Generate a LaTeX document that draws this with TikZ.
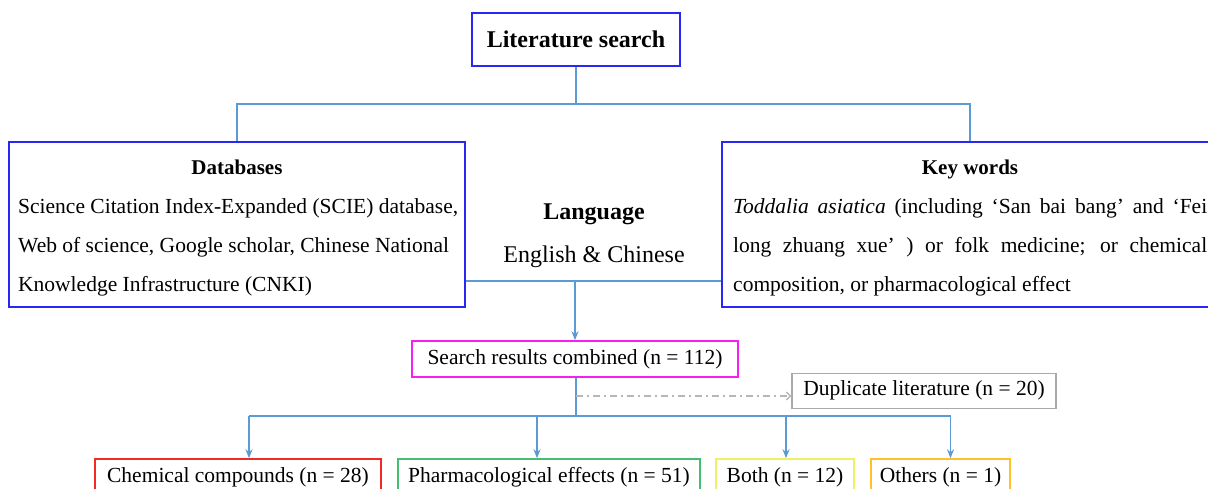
\documentclass[tikz,border=0pt]{standalone}
\usepackage{fontspec}
\setmainfont{Liberation Serif}
\usetikzlibrary{arrows.meta,calc,positioning}
\definecolor{boxblue}{RGB}{40,40,245}
\definecolor{linkblue}{RGB}{91,155,213}
\definecolor{mergepink}{RGB}{245,30,245}
\definecolor{dupgray}{RGB}{170,170,170}
\definecolor{chemred}{RGB}{245,40,40}
\definecolor{pharmgreen}{RGB}{70,190,110}
\definecolor{bothyellow}{RGB}{240,240,100}
\definecolor{otherorange}{RGB}{255,192,40}
\tikzset{
  box/.style={draw, line width=1.5pt, inner sep=0pt, align=center},
  link/.style={draw=linkblue, line width=1.6pt},
  arr/.style={link, -{Stealth[length=9pt,width=7pt]}},
  dupflow/.style={draw=dupgray!85, line width=1.4pt, dash pattern=on 7pt off 4pt on 2pt off 4pt,
    -{Straight Barb[length=4pt,width=8pt]}},
  body/.style={font=\fontsize{21.5}{26}\selectfont, inner sep=0pt},
  head/.style={font=\fontsize{21}{25}\selectfont\bfseries, inner sep=0pt},
  big/.style={font=\fontsize{24}{28}\selectfont, inner sep=0pt},
}

\begin{document}
\begin{tikzpicture}[x=1pt,y=-1pt]
  \clip (0,0) rectangle (1208,489);

  % Top of the tree.
  \node[box, draw=boxblue, big, minimum width=208pt, minimum height=53pt]
    (lit) at (576,39.5) {\bfseries Literature search};

  % Databases and key words.
  \node[box, draw=boxblue, minimum width=456pt, minimum height=165pt] (db) at (237,224.5) {};
  \node[head, anchor=base] (dbtitle) at (237,175) {Databases};
  \node[body, anchor=base west] (db1) at (18,213.5) {Science Citation Index-Expanded (SCIE) database,};
  \node[body, anchor=base west] (db2) at (18,252.5) {Web of science, Google scholar, Chinese National};
  \node[body, anchor=base west] (db3) at (18,291.5) {Knowledge Infrastructure (CNKI)};

  \node[box, draw=boxblue, minimum width=496pt, minimum height=165pt] (kw) at (970,224.5) {};
  \node[head, anchor=base] (kwtitle) at (970,175) {Key words};
  \node[body, anchor=base west] (kw1) at (733,213.5)
    {\makebox[474pt][s]{\textit{Toddalia asiatica} (including ‘San bai bang’ and ‘Fei}};
  \node[body, anchor=base west] (kw2) at (733,252.5)
    {\makebox[474pt][s]{long zhuang xue’ ) or folk medicine; or chemical}};
  \node[body, anchor=base west] (kw3) at (733,291.5) {composition, or pharmacological effect};

  % Language sits between the two boxes.
  \node[big, anchor=base] (langtitle) at (594,220) {\bfseries Language};
  \node[big, anchor=base] (langtext) at (594,263) {English \& Chinese};

  \coordinate (topbus) at (576,104);
  \draw[link] (lit.south) -- (topbus);
  \draw[link] (db.north) |- (topbus) -| (kw.north);

  % Merge and split.
  \node[box, draw=mergepink, body, minimum width=326pt, minimum height=36pt]
    (res) at (575,359) {Search results combined (n = 112)};
  \node[box, draw=dupgray, body, minimum width=264pt, minimum height=35pt]
    (dup) at (924,390.8) {Duplicate literature (n = 20)};

  \coordinate (langbus) at (575,281);
  \draw[link] (db.east |- langbus) -- (kw.west |- langbus);
  \draw[arr] (langbus) -- (res.north);

  \node[box, draw=chemred, body, minimum width=286pt, minimum height=36pt]
    (chem) at (238,477) {Chemical compounds (n = 28)};
  \node[box, draw=pharmgreen, body, minimum width=302pt, minimum height=36pt]
    (pharm) at (549,477) {Pharmacological effects (n = 51)};
  \node[box, draw=bothyellow, body, minimum width=138pt, minimum height=36pt]
    (both) at (785,477) {Both (n = 12)};
  \node[box, draw=otherorange, body, minimum width=139pt, minimum height=36pt]
    (others) at (940.5,477) {Others (n = 1)};

  \coordinate (dupstart) at (576,396);
  \coordinate (hub) at (576,416);
  \draw[link] (res.south -| hub) -- (hub);
  \draw[dupflow] (dupstart) -- (dup.west |- dupstart);
  \draw[link] ([xshift=11pt]chem.north |- hub) -- ([xshift=10pt]others.north |- hub);
  \draw[arr] ([xshift=11pt]chem.north |- hub) -- ([xshift=11pt]chem.north);
  \draw[arr] ([xshift=-12pt]pharm.north |- hub) -- ([xshift=-12pt]pharm.north);
  \draw[arr] ([xshift=1pt]both.north |- hub) -- ([xshift=1pt]both.north);
  \draw[arr] ([xshift=10pt]others.north |- hub) -- ([xshift=10pt]others.north);

\end{tikzpicture}
\end{document}
